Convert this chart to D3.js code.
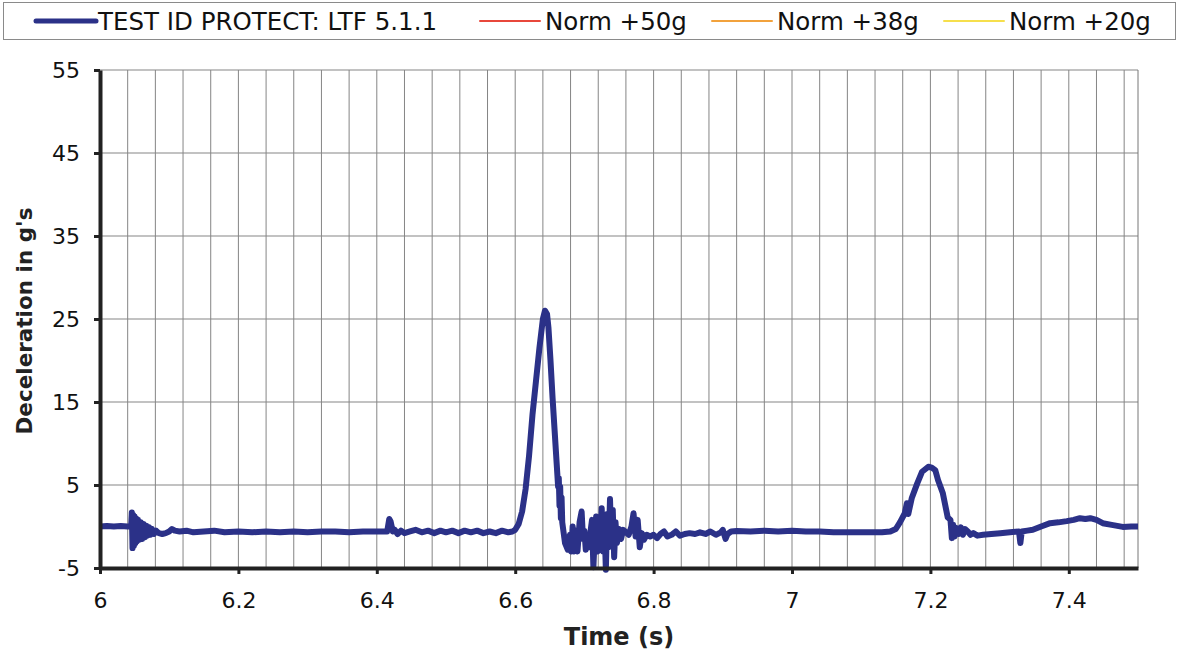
<!DOCTYPE html>
<html>
<head>
<meta charset="utf-8">
<script src="https://cdn.jsdelivr.net/npm/d3@7"></script>
<style>
  body { margin: 0; background: #fff; }
  svg { font-family: "DejaVu Sans", Verdana, sans-serif; }
</style>
</head>
<body>
<div id="chart"></div>
<script>
// data
const seriesNames = ["TEST ID PROTECT: LTF 5.1.1", "Norm +50g", "Norm +38g", "Norm +20g"]
const seriesColors = ["#2b3188", "#e8473b", "#f2a23c", "#f6df4c"]

const xTicks = [6, 6.2, 6.4, 6.6, 6.8, 7, 7.2, 7.4]
const yTicks = [-5, 5, 15, 25, 35, 45, 55]

const time = [
  6.000, 6.010, 6.020, 6.030, 6.040, 6.045,
  6.046, 6.047, 6.048, 6.049, 6.050, 6.051, 6.052, 6.053, 6.055, 6.057, 6.059, 6.061,
  6.063, 6.065, 6.067, 6.069, 6.071, 6.073, 6.075, 6.078, 6.081, 6.085, 6.090, 6.095,
  6.100, 6.104, 6.108, 6.115, 6.125, 6.135, 6.150, 6.165, 6.180, 6.200, 6.220, 6.240,
  6.260, 6.280, 6.300, 6.320, 6.340, 6.360, 6.380, 6.400, 6.415, 6.418, 6.420, 6.423,
  6.426, 6.430, 6.435, 6.440, 6.448, 6.456, 6.465, 6.474, 6.483, 6.492, 6.500, 6.509,
  6.518, 6.527, 6.536, 6.545, 6.554, 6.563, 6.572, 6.581, 6.590, 6.596,
  6.600, 6.605, 6.610, 6.615, 6.620, 6.625, 6.630, 6.635, 6.640, 6.643, 6.646,
  6.648, 6.651, 6.654, 6.657, 6.660, 6.662, 6.663, 6.664, 6.665, 6.666, 6.667, 6.668,
  6.672, 6.676, 6.679, 6.681, 6.683, 6.685, 6.688, 6.690, 6.693, 6.696, 6.698, 6.700,
  6.702, 6.705, 6.707, 6.709, 6.711, 6.713, 6.715, 6.717, 6.719, 6.721, 6.723, 6.725,
  6.727, 6.729, 6.731, 6.733, 6.735, 6.737, 6.739, 6.741, 6.743, 6.745, 6.747, 6.750,
  6.753, 6.756, 6.760, 6.764, 6.768, 6.771, 6.774, 6.777, 6.780, 6.783, 6.786, 6.790,
  6.795, 6.800, 6.805, 6.810, 6.815, 6.820, 6.826, 6.832, 6.838, 6.845, 6.852, 6.860,
  6.867, 6.875, 6.882, 6.890, 6.897, 6.900, 6.904, 6.907, 6.912, 6.920, 6.940, 6.960,
  6.980, 7.000, 7.020, 7.040, 7.060, 7.084, 7.110, 7.130, 7.142, 7.150, 7.156, 7.163,
  7.166, 7.168, 7.173, 7.181, 7.188, 7.197, 7.202, 7.207, 7.211, 7.218, 7.225, 7.229,
  7.231, 7.233, 7.235, 7.238, 7.241, 7.244, 7.247, 7.250, 7.254, 7.258, 7.262, 7.268,
  7.276, 7.288, 7.301, 7.315, 7.328, 7.330, 7.332, 7.340, 7.348, 7.360, 7.373, 7.385,
  7.397, 7.407, 7.416, 7.424, 7.431, 7.440, 7.449, 7.462, 7.478, 7.490, 7.500
]
const decel = [
  0.0, 0.05, 0.0, 0.05, 0.0, 0.0,
  1.7, -2.6, 1.4, -2.3, 1.2, -2.0, 1.0, -1.8, 0.8, -1.6, 0.5, -1.5,
  0.3, -1.3, 0.1, -1.1, -0.1, -1.0, -0.3, -0.9, -0.5, -0.8, -0.9, -0.8,
  -0.6, -0.3, -0.5, -0.6, -0.5, -0.7, -0.6, -0.5, -0.7, -0.6, -0.7, -0.6,
  -0.7, -0.6, -0.7, -0.6, -0.6, -0.7, -0.6, -0.6, -0.6, 0.9, 0.6, -0.6,
  -0.4, -0.9, -0.5, -0.8, -0.6, -0.4, -0.7, -0.5, -0.8, -0.5, -0.7, -0.5,
  -0.8, -0.5, -0.7, -0.5, -0.8, -0.6, -0.8, -0.5, -0.7, -0.6,
  -0.4, 0.3, 1.8, 4.5, 8.5, 13.5, 17.5, 21.5, 25.0, 26.0, 25.6,
  24.0, 20.0, 15.5, 11.5, 7.5, 4.8, 5.8, 2.5, 4.8, 1.0, 3.5, 0.5,
  -2.0, -2.8, -1.0, -3.0, 0.0, -3.0, -0.5, -3.0, 0.5, 1.8, -1.5, -0.5,
  -2.8, -1.0, -2.5, -0.5, 0.8, -4.9, -1.0, 1.2, -3.0, 1.0, -2.0, 2.2,
  -3.0, 0.5, -5.2, 1.5, -2.5, 3.3, -2.0, 2.0, -3.7, 0.5, -2.0, -0.3,
  -1.5, -0.4, -0.7, -1.0, 0.0, 1.6, -1.2, 0.8, -2.5, -0.8, -1.6, -1.0,
  -1.2, -1.0, -1.4, -0.9, -0.6, -1.2, -1.0, -0.6, -1.1, -0.9, -0.8, -0.9,
  -0.7, -0.9, -0.6, -1.0, -0.7, -0.4, -1.5, -0.9, -0.6, -0.55, -0.6, -0.5,
  -0.6, -0.5, -0.6, -0.6, -0.7, -0.7, -0.7, -0.7, -0.6, -0.3, 0.5, 1.6,
  2.8, 1.5, 3.4, 5.2, 6.6, 7.2, 7.1, 6.8, 5.6, 4.0, 1.1, 0.8,
  -1.4, 0.2, -1.2, -0.2, -0.9, -0.1, -1.0, -0.3, -0.6, -1.0, -0.8, -1.1,
  -1.0, -0.9, -0.8, -0.7, -0.6, -2.0, -0.6, -0.5, -0.4, 0.0, 0.4, 0.5,
  0.65, 0.8, 1.0, 0.9, 1.0, 0.8, 0.4, 0.2, -0.05, 0.0, 0.0
]

const margin = ({top: 70, right: 42, bottom: 90, left: 100})
const width = 1180 - margin.left - margin.right,
    height = 658 - margin.top - margin.bottom

const root = d3.select("#chart").append("svg")
    .attr("width", 1180)
    .attr("height", 658)

// legend box
root.append("rect")
    .attr("x", 3.5).attr("y", 2.5)
    .attr("width", 1172).attr("height", 37)
    .attr("fill", "#fff")
    .attr("stroke", "#8a8a8a")

const legendX = [36, 480, 712, 944]
const legend = root.append("g")
seriesNames.forEach((name, i) => {
    const g = legend.append("g").attr("transform", "translate(" + legendX[i] + ",21)")
    g.append("line")
        .attr("x1", 0).attr("x2", 60)
        .attr("stroke", seriesColors[i])
        .attr("stroke-width", i === 0 ? 5 : 2)
        .attr("stroke-linecap", "round")
    g.append("text")
        .attr("x", i === 0 ? 62 : 65)
        .attr("dy", "0.36em")
        .attr("font-size", 24.5)
        .attr("fill", "#111")
        .text(name)
})

const svg = root.append("g")
    .attr("transform", "translate(" + margin.left + "," + margin.top + ")")

const xScale = d3.scaleLinear().domain([6, 7.5]).range([0, width])
const yScale = d3.scaleLinear().domain([-5, 55]).range([height, 0])

// grid: minor verticals every 0.04, horizontals at the major ticks
svg.append("g")
    .selectAll("line")
    .data(d3.range(1, 38).map(i => 6 + i * 0.04))
    .join("line")
    .attr("x1", d => xScale(d)).attr("x2", d => xScale(d))
    .attr("y1", 0).attr("y2", height)
    .attr("stroke", "#858585")
    .attr("stroke-width", 1)

svg.append("g")
    .selectAll("line")
    .data(yTicks.slice(1))
    .join("line")
    .attr("x1", 0).attr("x2", width)
    .attr("y1", d => yScale(d)).attr("y2", d => yScale(d))
    .attr("stroke", "#858585")
    .attr("stroke-width", 1)

// right border
svg.append("line")
    .attr("x1", width).attr("x2", width)
    .attr("y1", 0).attr("y2", height)
    .attr("stroke", "#777")

// series
const line = d3.line()
    .x((d, i) => xScale(time[i]))
    .y(d => yScale(d))

svg.append("path")
    .datum(decel)
    .attr("d", line)
    .attr("fill", "none")
    .attr("stroke", seriesColors[0])
    .attr("stroke-width", 6)
    .attr("stroke-linejoin", "round")

// axes
const xAxis = d3.axisBottom(xScale)
    .tickValues(xTicks)
    .tickFormat(d3.format("~g"))
    .tickSize(6)
    .tickSizeOuter(0)
    .tickPadding(18)
const yAxis = d3.axisLeft(yScale)
    .tickValues(yTicks)
    .tickFormat(d => String(d))
    .tickSize(6)
    .tickSizeOuter(0)
    .tickPadding(14)

svg.append("g")
    .attr("class", "axis x-axis")
    .attr("transform", "translate(0," + height + ")")
    .call(xAxis)

svg.append("g")
    .attr("class", "axis y-axis")
    .call(yAxis)

svg.selectAll(".axis path.domain")
    .attr("stroke", "#222")
    .attr("stroke-width", 4)
svg.selectAll(".axis .tick line")
    .attr("stroke", "#222")
    .attr("stroke-width", 3)
svg.selectAll(".axis text")
    .attr("font-size", 22)
    .attr("fill", "#111")
    .attr("font-family", "DejaVu Sans, Verdana, sans-serif")

// axis titles
svg.append("text")
    .attr("x", width / 2)
    .attr("y", height + 77)
    .attr("text-anchor", "middle")
    .attr("font-size", 24)
    .attr("font-weight", "bold")
    .attr("fill", "#222")
    .text("Time (s)")

svg.append("text")
    .attr("transform", "translate(-68," + (height / 2 + 2) + ") rotate(-90)")
    .attr("text-anchor", "middle")
    .attr("font-size", 21.5)
    .attr("font-weight", "bold")
    .attr("fill", "#222")
    .text("Deceleration in g's")
</script>
</body>
</html>
